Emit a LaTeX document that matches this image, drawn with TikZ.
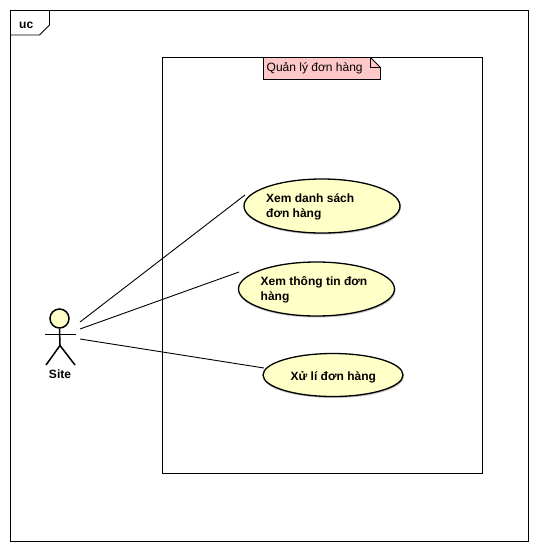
\documentclass[tikz,border=0pt]{standalone}
\usepackage{fontspec}
\setmainfont{Liberation Sans}
\usetikzlibrary{shapes.geometric}
\definecolor{ucfill}{HTML}{FFFFC8}
\definecolor{notefill}{HTML}{FFC8C8}
\tikzset{
  line/.style={draw=black,line width=0.9pt},
  usecase/.style={ellipse,draw=black,line width=1.3pt,fill=ucfill,inner sep=0pt},
  shade/.style={ellipse,fill=black!25,inner sep=0pt,draw=none},
  uclabel/.style={font=\fontsize{12}{15}\selectfont\bfseries,align=left,anchor=west,inner sep=0pt},
  notelabel/.style={font=\fontsize{12}{15}\selectfont,anchor=west,inner sep=0pt},
  actorline/.style={draw=black,line width=1.5pt}
}
\begin{document}
\begin{tikzpicture}[x=1pt,y=-1pt]
\useasboundingbox (0,0) rectangle (538,552);
\fill[white] (0,0) rectangle (538,552);
% frame
\draw[line] (10.5,10.5) rectangle (528,541.5);
\draw[line] (10.5,35) -- (39.5,35) -- (49.5,25) -- (49.5,10.5);
\node[font=\fontsize{12}{15}\selectfont\bfseries,anchor=west,inner sep=0pt] (frametitle) at (19,25) {uc};
% system boundary
\draw[line] (162.5,57.5) rectangle (482.5,473.5);
\draw[line,fill=notefill] (263.5,57.5) -- (370.5,57.5) -- (380.5,67.5) -- (380.5,79.5) -- (263.5,79.5) -- cycle;
\draw[line] (370.5,57.5) -- (370.5,67.5) -- (380.5,67.5);
\node[notelabel] (boundarytitle) at (266.5,68.5) {Quản lý đơn hàng};
% use cases
\node[shade,minimum width=157pt,minimum height=54pt] at (322.5,207.5) {};
\node[shade,minimum width=157pt,minimum height=54pt] at (317,290.5) {};
\node[shade,minimum width=141pt,minimum height=43pt] at (333.5,376.5) {};
\node[usecase,minimum width=156pt,minimum height=54pt] (uc1) at (322,206) {};
\node[usecase,minimum width=156pt,minimum height=54pt] (uc2) at (316.5,289) {};
\node[usecase,minimum width=140pt,minimum height=43pt] (uc3) at (333,375) {};
\node[uclabel] (uc1t) at (266,207) {Xem danh sách\\đơn hàng};
\node[uclabel] (uc2t) at (260.5,290) {Xem thông tin đơn\\hàng};
\node[uclabel] (uc3t) at (290.5,377) {Xử lí đơn hàng};
% actor
\node[circle,actorline,fill=ucfill,minimum size=19pt,inner sep=0pt] (head) at (59.5,318.5) {};
\coordinate (hip) at (60,345.5);
\draw[actorline] (head.south) -- (hip);
\draw[actorline] (45,334.5) -- (75.5,334.5);
\draw[actorline] (46,365) -- (hip) -- (75,365);
\node[font=\fontsize{12}{15}\selectfont\bfseries,inner sep=0pt] (site) at (60,374.5) {Site};
% connectors
\coordinate (a1) at (80,322);
\coordinate (a2) at (80,329);
\coordinate (a3) at (80,339);
\coordinate (b1) at (245,195);
\coordinate (b2) at (239,272);
\coordinate (b3) at (264,368);
\draw[line] (a1) -- (b1);
\draw[line] (a2) -- (b2);
\draw[line] (a3) -- (b3);
\end{tikzpicture}
\end{document}
